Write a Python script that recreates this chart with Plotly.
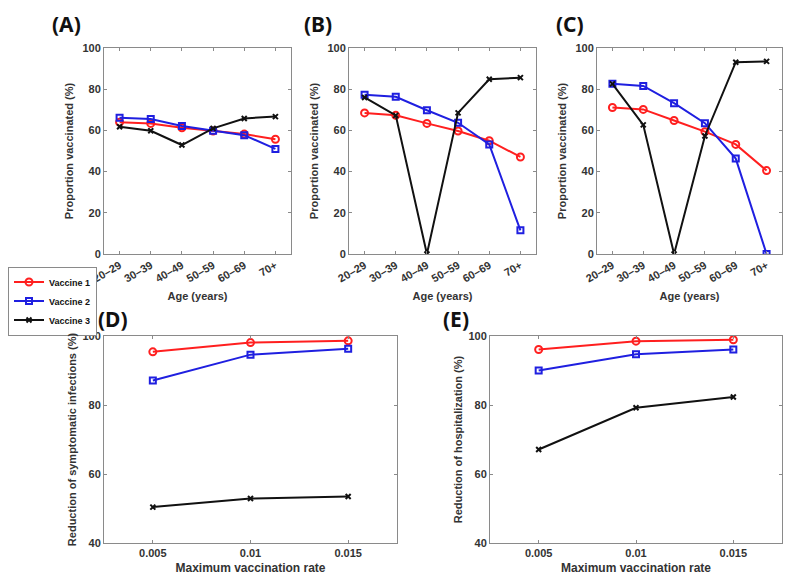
import plotly.graph_objects as go

AGE_GROUPS = ["20–29", "30–39", "40–49", "50–59", "60–69", "70+"]
MAX_RATES = [0.005, 0.01, 0.015]
VACCINES = ["Vaccine 1", "Vaccine 2", "Vaccine 3"]

# proportion vaccinated (%) by age group, panels A-C
A_V1 = [64.0, 63.4, 61.3, 59.7, 58.2, 55.7]
A_V2 = [66.1, 65.5, 62.1, 59.8, 57.7, 51.0]
A_V3 = [61.8, 59.8, 52.9, 61.0, 65.8, 66.7]

B_V1 = [68.5, 67.3, 63.4, 59.7, 55.0, 47.1]
B_V2 = [77.3, 76.3, 69.8, 63.7, 53.2, 11.5]
B_V3 = [76.0, 67.3, 0.0, 68.5, 84.8, 85.6]

C_V1 = [71.1, 70.2, 64.8, 59.4, 53.2, 40.5]
C_V2 = [82.7, 81.6, 73.2, 63.5, 46.3, 0.0]
C_V3 = [82.6, 62.7, 0.0, 57.3, 93.1, 93.5]

# reduction (%) vs maximum vaccination rate, panels D-E
D_V1 = [95.4, 98.1, 98.6]
D_V2 = [87.1, 94.6, 96.3]
D_V3 = [50.4, 52.9, 53.5]

E_V1 = [96.1, 98.5, 98.9]
E_V2 = [90.0, 94.7, 96.1]
E_V3 = [67.1, 79.2, 82.3]

COLORS = ["#ff1f1f", "#1f1fe0", "#111111"]
SYMBOLS = ["circle-open", "square-open", "x-thin-open"]
SIZES = [7, 6, 5]
TEXT_COLOR = "#333333"
FONT = "Liberation Sans"

# page body keeps its 8px margin: shift by it and let the figure run to the window edge
PAGE_W, PAGE_H = 799, 579
PAD = 8
W, H = PAGE_W - PAD, PAGE_H - PAD


def px_dom(a, b):
    return [(a - PAD) / W, (b - PAD) / W]


def py_dom(top, bottom):
    return [1 - (bottom - PAD) / H, 1 - (top - PAD) / H]


def paper_x(x):
    return (x - PAD) / W


def paper_y(y):
    return 1 - (y - PAD) / H


fig = go.Figure()

panels = [
    ("x", "y", AGE_GROUPS, [A_V1, A_V2, A_V3], True),
    ("x2", "y2", AGE_GROUPS, [B_V1, B_V2, B_V3], False),
    ("x3", "y3", AGE_GROUPS, [C_V1, C_V2, C_V3], False),
    ("x4", "y4", MAX_RATES, [D_V1, D_V2, D_V3], False),
    ("x5", "y5", MAX_RATES, [E_V1, E_V2, E_V3], False),
]

for xa, ya, xs, series, show in panels:
    for i, ys in enumerate(series):
        fig.add_trace(go.Scatter(
            x=xs, y=ys, xaxis=xa, yaxis=ya,
            mode="lines+markers",
            name=VACCINES[i],
            showlegend=show,
            line=dict(color=COLORS[i], width=2),
            marker=dict(symbol=SYMBOLS[i], size=SIZES[i], color=COLORS[i],
                        line=dict(color=COLORS[i], width=2)),
        ))

axis_style = dict(
    automargin=False,
    showgrid=False, zeroline=False, showline=True, mirror="allticks",
    linecolor="#8a8a8a", linewidth=1, ticks="inside", ticklen=3,
    tickcolor="#8a8a8a",
    tickfont=dict(family=FONT, size=11, color=TEXT_COLOR, weight="bold"),
    title_font=dict(family=FONT, size=11, color=TEXT_COLOR, weight="bold"),
)

top_y = py_dom(48, 254)
bot_y = py_dom(336, 543)

layout = dict(
    width=W, height=H, margin=dict(l=0, r=0, t=0, b=0, autoexpand=False),
    paper_bgcolor="white", plot_bgcolor="white",
    font=dict(family=FONT, color=TEXT_COLOR),
    showlegend=True,
    legend=dict(
        x=paper_x(8), y=paper_y(301), xanchor="left", yanchor="middle",
        bordercolor="#8a8a8a", borderwidth=1, bgcolor="white",
        font=dict(family=FONT, size=9, color="#111111", weight="bold"),
        tracegroupgap=0, itemwidth=30,
    ),
)

age_x = [(104, 291), (349, 536), (597, 782)]
for k, (a, b) in enumerate(age_x, start=1):
    sfx = "" if k == 1 else str(k)
    layout["xaxis" + sfx] = dict(
        axis_style, domain=px_dom(a, b), anchor="y" + sfx,
        type="category", range=[-0.5, 5.5], tickangle=-30,
        title=dict(text="Age (years)", standoff=8),
    )
    layout["yaxis" + sfx] = dict(
        axis_style, domain=top_y, anchor="x" + sfx,
        range=[0, 100], tickvals=[0, 20, 40, 60, 80, 100],
        title=dict(text="Proportion vaccinated (%)", standoff=6),
    )

rate_x = [(104, 397, "Reduction of symptomatic infections (%)"),
          (490, 782, "Reduction of hospitalization (%)")]
for k, (a, b, ttl) in enumerate(rate_x, start=4):
    sfx = str(k)
    layout["xaxis" + sfx] = dict(
        axis_style, domain=px_dom(a, b), anchor="y" + sfx,
        range=[0.0025, 0.0175], tickvals=MAX_RATES,
        ticktext=["0.005", "0.01", "0.015"],
        title=dict(text="Maximum vaccination rate", standoff=5,
                   font=dict(family=FONT, size=12, color=TEXT_COLOR, weight="bold")),
    )
    layout["yaxis" + sfx] = dict(
        axis_style, domain=bot_y, anchor="x" + sfx,
        range=[40, 100], tickvals=[40, 60, 80, 100],
        title=dict(text=ttl, standoff=3),
    )

fig.update_layout(**layout)

labels = [("(A)", 50, 24), ("(B)", 302, 24), ("(C)", 554, 24),
          ("(D)", 96, 319), ("(E)", 441, 319)]
for txt, lx, ly in labels:
    fig.add_annotation(
        text=txt, x=paper_x(lx), y=paper_y(ly), xref="paper", yref="paper",
        xanchor="left", yanchor="middle", showarrow=False,
        font=dict(family="Noto Sans", size=21, color="#111111", weight="bold"),
    )

fig.write_html("out.html")
